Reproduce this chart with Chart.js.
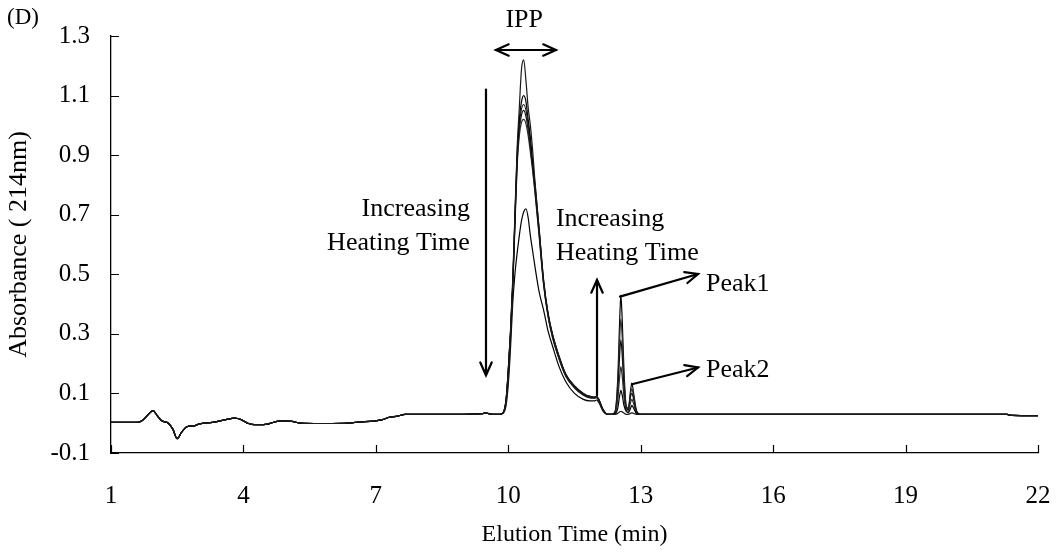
<!DOCTYPE html>
<html>
<head>
<meta charset="utf-8">
<title>Elution profile (D)</title>
<script src="https://cdn.jsdelivr.net/npm/chart.js@4.4.1/dist/chart.umd.min.js"></script>
<style>
  html, body { margin: 0; padding: 0; background: #fff; }
  canvas { display: block; }
</style>
</head>
<body>
<canvas id="chart" width="1058" height="556"></canvas>
<script>
// Baseline before the IPP peak (same for every run)
const baseTimes = [1.0, 1.6, 1.7, 1.85, 1.95, 2.05, 2.15, 2.3, 2.4, 2.5, 2.6, 2.72, 2.9, 3.0, 3.3, 3.6, 3.8, 3.95, 4.1, 4.25,
    4.5, 4.7, 4.85, 5.1, 5.3, 5.6, 6.0, 6.35, 6.6, 6.95, 7.15, 7.3, 7.5, 7.66, 8.0, 9.0, 9.4, 9.5, 9.6];
const baseAbs = [0.003, 0.003, 0.008, 0.030, 0.042, 0.025, 0.008, 0.000, -0.020, -0.052, -0.030, -0.012, -0.008, -0.002, 0.003, 0.012, 0.017, 0.012, 0.000, -0.005,
    -0.004, 0.004, 0.008, 0.006, 0.000, -0.001, -0.001, 0.000, 0.004, 0.007, 0.012, 0.020, 0.024, 0.030, 0.030, 0.030, 0.032, 0.034, 0.031];

// Peak region: IPP, Peak1, Peak2
const peakTimes = [9.70, 9.80, 9.88, 9.95, 10.00, 10.05, 10.10, 10.15, 10.20, 10.25, 10.30, 10.35, 10.40, 10.45, 10.50, 10.55,
    10.60, 10.70, 10.80, 10.90, 11.00, 11.15, 11.30, 11.50, 11.70, 11.85, 11.95, 12.00, 12.05, 12.15, 12.25,
    12.35, 12.42, 12.48, 12.52, 12.55, 12.58, 12.62, 12.67, 12.72, 12.77, 12.80, 12.84, 12.90, 12.97, 13.05];

const run1 = [0.030, 0.030, 0.035, 0.080, 0.180, 0.310, 0.480, 0.700, 0.920, 1.060, 1.190, 1.220, 1.150, 1.060, 1.000, 0.920,
    0.820, 0.650, 0.480, 0.370, 0.300, 0.225, 0.165, 0.125, 0.100, 0.090, 0.088, 0.090, 0.080, 0.045, 0.030,
    0.030, 0.030, 0.033, 0.038, 0.040, 0.038, 0.034, 0.030, 0.030, 0.033, 0.035, 0.033, 0.030, 0.030, 0.030];
const run2 = [0.030, 0.030, 0.035, 0.080, 0.180, 0.305, 0.470, 0.690, 0.900, 1.020, 1.080, 1.100, 1.080, 1.020, 0.960, 0.880,
    0.810, 0.650, 0.480, 0.370, 0.300, 0.225, 0.165, 0.125, 0.100, 0.090, 0.088, 0.090, 0.080, 0.045, 0.030,
    0.030, 0.032, 0.050, 0.090, 0.110, 0.095, 0.060, 0.040, 0.035, 0.050, 0.060, 0.050, 0.033, 0.030, 0.030];
const run3 = [0.030, 0.030, 0.034, 0.078, 0.175, 0.300, 0.460, 0.680, 0.890, 1.000, 1.055, 1.070, 1.050, 1.000, 0.940, 0.870,
    0.800, 0.640, 0.470, 0.365, 0.295, 0.220, 0.162, 0.122, 0.098, 0.088, 0.086, 0.088, 0.078, 0.044, 0.030,
    0.030, 0.034, 0.080, 0.150, 0.190, 0.160, 0.090, 0.045, 0.040, 0.070, 0.080, 0.065, 0.035, 0.030, 0.030];
const run4 = [0.030, 0.030, 0.034, 0.075, 0.170, 0.295, 0.455, 0.670, 0.875, 0.985, 1.035, 1.050, 1.030, 0.985, 0.925, 0.860,
    0.790, 0.635, 0.470, 0.362, 0.292, 0.218, 0.160, 0.120, 0.096, 0.086, 0.085, 0.087, 0.077, 0.043, 0.030,
    0.030, 0.036, 0.110, 0.220, 0.280, 0.230, 0.120, 0.050, 0.045, 0.090, 0.100, 0.080, 0.040, 0.030, 0.030];
const run5 = [0.030, 0.030, 0.034, 0.072, 0.165, 0.290, 0.450, 0.660, 0.860, 0.965, 1.010, 1.020, 1.005, 0.965, 0.910, 0.850,
    0.780, 0.625, 0.465, 0.358, 0.288, 0.215, 0.158, 0.118, 0.094, 0.085, 0.084, 0.086, 0.076, 0.042, 0.030,
    0.030, 0.038, 0.130, 0.270, 0.350, 0.290, 0.150, 0.055, 0.048, 0.100, 0.115, 0.090, 0.040, 0.030, 0.030];
const run6 = [0.030, 0.030, 0.033, 0.060, 0.130, 0.250, 0.400, 0.500, 0.570, 0.630, 0.680, 0.710, 0.720, 0.690, 0.630, 0.580,
    0.530, 0.440, 0.380, 0.310, 0.260, 0.190, 0.140, 0.100, 0.080, 0.075, 0.075, 0.078, 0.070, 0.040, 0.030,
    0.030, 0.040, 0.150, 0.330, 0.430, 0.350, 0.180, 0.060, 0.050, 0.110, 0.135, 0.100, 0.045, 0.032, 0.030];

// Flat tail after the peaks
const tailTimes = [13.3, 16, 19, 21.3, 21.4, 22];
const tailAbs = [0.030, 0.030, 0.030, 0.030, 0.026, 0.025];

const runs = [run1, run2, run3, run4, run5, run6];
const runColors = ['#1a1a1a', '#000000', '#2a2a2a', '#111111', '#333333', '#000000'];

// Axis ticks
const xTickValues = [1, 4, 7, 10, 13, 16, 19, 22];
const yTickValues = [-0.1, 0.1, 0.3, 0.5, 0.7, 0.9, 1.1, 1.3];

const serif = '"Liberation Serif", "Times New Roman", serif';

function toPoints(times, values) {
    return times.map((t, i) => ({ x: t, y: values[i] }));
}

const datasets = runs.map((run, i) => ({
    label: 'Run ' + (i + 1),
    data: toPoints(baseTimes, baseAbs).concat(toPoints(peakTimes, run), toPoints(tailTimes, tailAbs)),
    borderColor: runColors[i],
    borderWidth: 1.2,
    pointRadius: 0,
    fill: false,
    cubicInterpolationMode: 'monotone'
}));

// Tick marks pointing into the plot
const innerTicks = {
    id: 'innerTicks',
    afterDraw(chart) {
        const { ctx, chartArea, scales: { x, y } } = chart;
        ctx.save();
        ctx.strokeStyle = '#000';
        ctx.lineWidth = 1.2;
        ctx.beginPath();
        xTickValues.forEach(v => {
            const p = Math.round(x.getPixelForValue(v)) + 0.5;
            ctx.moveTo(p, chartArea.bottom);
            ctx.lineTo(p, chartArea.bottom - 8);
        });
        yTickValues.forEach(v => {
            const p = Math.round(y.getPixelForValue(v)) + 0.5;
            ctx.moveTo(chartArea.left, p);
            ctx.lineTo(chartArea.left + 8, p);
        });
        ctx.stroke();
        ctx.restore();
    }
};

function arrowHead(ctx, x1, y1, x2, y2) {
    const a = Math.atan2(y2 - y1, x2 - x1);
    const len = 14, spread = 0.42;
    ctx.beginPath();
    ctx.moveTo(x2 - len * Math.cos(a - spread), y2 - len * Math.sin(a - spread));
    ctx.lineTo(x2, y2);
    ctx.lineTo(x2 - len * Math.cos(a + spread), y2 - len * Math.sin(a + spread));
    ctx.stroke();
}

function arrow(ctx, x1, y1, x2, y2, both) {
    ctx.beginPath();
    ctx.moveTo(x1, y1);
    ctx.lineTo(x2, y2);
    ctx.stroke();
    arrowHead(ctx, x1, y1, x2, y2);
    if (both) arrowHead(ctx, x2, y2, x1, y1);
}

// Labels and arrows on the plot
const notes = {
    id: 'notes',
    afterDraw(chart) {
        const { ctx, scales: { x, y } } = chart;
        const px = t => x.getPixelForValue(t);
        const py = v => y.getPixelForValue(v);
        ctx.save();
        ctx.strokeStyle = '#000';
        ctx.fillStyle = '#000';
        ctx.lineWidth = 2.2;
        ctx.lineCap = 'round';

        // IPP range
        arrow(ctx, px(9.72), py(1.253), px(11.08), py(1.253), true);
        // heating time arrows
        arrow(ctx, px(9.495), py(1.12), px(9.495), py(0.161));
        arrow(ctx, px(12.01), py(0.094), px(12.01), py(0.481));
        // peak pointers
        arrow(ctx, px(12.53), py(0.425), px(14.30), py(0.501));
        arrow(ctx, px(12.80), py(0.131), px(14.30), py(0.187));

        ctx.textBaseline = 'middle';
        ctx.font = '26px ' + serif;
        ctx.textAlign = 'center';
        ctx.fillText('IPP', px(10.36), py(1.353));
        ctx.textAlign = 'right';
        ctx.fillText('Increasing', px(9.13), py(0.718));
        ctx.fillText('Heating Time', px(9.13), py(0.605));
        ctx.textAlign = 'left';
        ctx.fillText('Increasing', px(11.08), py(0.685));
        ctx.fillText('Heating Time', px(11.08), py(0.572));
        ctx.fillText('Peak1', px(14.48), py(0.468));
        ctx.fillText('Peak2', px(14.48), py(0.177));

        ctx.font = '23px ' + serif;
        ctx.fillText('(D)', 7, 18);
        ctx.restore();
    }
};

const ctx = document.getElementById('chart').getContext('2d');
new Chart(ctx, {
    type: 'line',
    data: { datasets: datasets },
    options: {
        responsive: false,
        animation: false,
        layout: { padding: { top: 34, right: 20, left: 0, bottom: 0 } },
        plugins: {
            legend: { display: false },
            tooltip: { enabled: false }
        },
        scales: {
            x: {
                type: 'linear',
                min: 1,
                max: 22,
                afterBuildTicks: scale => { scale.ticks = xTickValues.map(v => ({ value: v })); },
                afterFit: scale => {
                    scale.height = 103;
                    scale.paddingLeft = 0;
                    scale.paddingRight = 0;
                },
                grid: { drawOnChartArea: false, drawTicks: false },
                border: { display: true, color: '#000', width: 1.3 },
                ticks: {
                    padding: 28,
                    maxRotation: 0,
                    color: '#000',
                    font: { family: serif, size: 25 },
                    callback: v => String(v)
                },
                title: {
                    display: true,
                    text: 'Elution Time (min)',
                    color: '#000',
                    font: { family: serif, size: 24 },
                    padding: { top: 0, bottom: 7 }
                }
            },
            y: {
                min: -0.1,
                max: 1.3,
                afterBuildTicks: scale => { scale.ticks = yTickValues.map(v => ({ value: v })); },
                afterFit: scale => { scale.width = 111; },
                grid: { drawOnChartArea: false, drawTicks: false },
                border: { display: true, color: '#000', width: 1.3 },
                ticks: {
                    padding: 21,
                    color: '#000',
                    font: { family: serif, size: 25 },
                    callback: v => v.toFixed(1)
                },
                title: {
                    display: true,
                    text: 'Absorbance ( 214nm)',
                    color: '#000',
                    font: { family: serif, size: 26 },
                    padding: { top: 4, bottom: 0 }
                }
            }
        }
    },
    plugins: [innerTicks, notes]
});
</script>
</body>
</html>
